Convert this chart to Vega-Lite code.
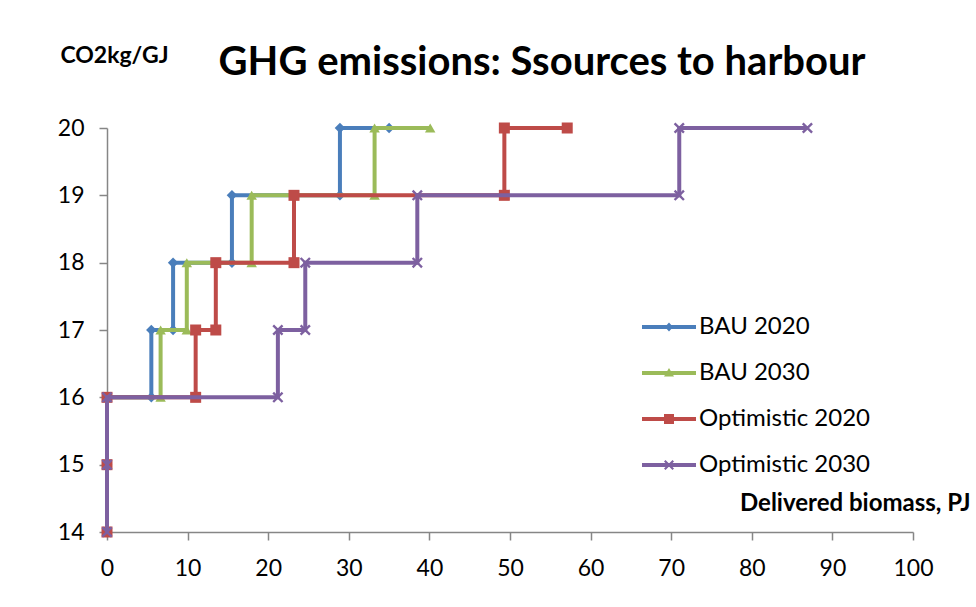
{
  "$schema": "https://vega.github.io/schema/vega-lite/v6.json",
  "autosize": "none",
  "width": 806,
  "height": 404,
  "padding": {"left": 107, "top": 128, "right": 63, "bottom": 75},
  "background": "white",
  "title": {"text": "GHG emissions: Ssources to harbour", "font": "Lato", "fontSize": 40, "fontWeight": "bold", "color": "black", "anchor": "middle", "dx": 32, "baseline": "alphabetic", "offset": -71},
  "config": {
    "view": {"stroke": null},
    "font": "Lato",
    "axis": {"grid": false, "domainColor": "#868686", "domainWidth": 1.5, "tickColor": "#868686", "tickWidth": 1.5, "tickSize": 8, "labelFont": "Lato", "labelFontSize": 23, "labelColor": "black", "labelFlush": false, "labelOverlap": false, "titleFont": "Lato", "titleFontWeight": "bold", "titleColor": "black"}
  },
  "data": {"values": [
    {"s": "BAU 2020", "i": 1, "x": 0, "y": 14}, {"s": "BAU 2020", "i": 2, "x": 0, "y": 15}, {"s": "BAU 2020", "i": 3, "x": 0, "y": 16},
    {"s": "BAU 2020", "i": 4, "x": 5.5, "y": 16}, {"s": "BAU 2020", "i": 5, "x": 5.5, "y": 17}, {"s": "BAU 2020", "i": 6, "x": 8.2, "y": 17},
    {"s": "BAU 2020", "i": 7, "x": 8.2, "y": 18}, {"s": "BAU 2020", "i": 8, "x": 15.5, "y": 18}, {"s": "BAU 2020", "i": 9, "x": 15.5, "y": 19},
    {"s": "BAU 2020", "i": 10, "x": 28.9, "y": 19}, {"s": "BAU 2020", "i": 11, "x": 28.9, "y": 20}, {"s": "BAU 2020", "i": 12, "x": 35, "y": 20},
    {"s": "BAU 2030", "i": 1, "x": 0, "y": 14}, {"s": "BAU 2030", "i": 2, "x": 0, "y": 15}, {"s": "BAU 2030", "i": 3, "x": 0, "y": 16},
    {"s": "BAU 2030", "i": 4, "x": 6.65, "y": 16}, {"s": "BAU 2030", "i": 5, "x": 6.65, "y": 17}, {"s": "BAU 2030", "i": 6, "x": 9.9, "y": 17},
    {"s": "BAU 2030", "i": 7, "x": 9.9, "y": 18}, {"s": "BAU 2030", "i": 8, "x": 17.95, "y": 18}, {"s": "BAU 2030", "i": 9, "x": 17.95, "y": 19},
    {"s": "BAU 2030", "i": 10, "x": 33.2, "y": 19}, {"s": "BAU 2030", "i": 11, "x": 33.2, "y": 20}, {"s": "BAU 2030", "i": 12, "x": 40.1, "y": 20},
    {"s": "Optimistic 2020", "i": 1, "x": 0, "y": 14}, {"s": "Optimistic 2020", "i": 2, "x": 0, "y": 15}, {"s": "Optimistic 2020", "i": 3, "x": 0, "y": 16},
    {"s": "Optimistic 2020", "i": 4, "x": 11, "y": 16}, {"s": "Optimistic 2020", "i": 5, "x": 11, "y": 17}, {"s": "Optimistic 2020", "i": 6, "x": 13.5, "y": 17},
    {"s": "Optimistic 2020", "i": 7, "x": 13.5, "y": 18}, {"s": "Optimistic 2020", "i": 8, "x": 23.2, "y": 18}, {"s": "Optimistic 2020", "i": 9, "x": 23.2, "y": 19},
    {"s": "Optimistic 2020", "i": 10, "x": 49.3, "y": 19}, {"s": "Optimistic 2020", "i": 11, "x": 49.3, "y": 20}, {"s": "Optimistic 2020", "i": 12, "x": 57.1, "y": 20},
    {"s": "Optimistic 2030", "i": 1, "x": 0, "y": 14}, {"s": "Optimistic 2030", "i": 2, "x": 0, "y": 15}, {"s": "Optimistic 2030", "i": 3, "x": 0, "y": 16},
    {"s": "Optimistic 2030", "i": 4, "x": 21.2, "y": 16}, {"s": "Optimistic 2030", "i": 5, "x": 21.2, "y": 17}, {"s": "Optimistic 2030", "i": 6, "x": 24.6, "y": 17},
    {"s": "Optimistic 2030", "i": 7, "x": 24.6, "y": 18}, {"s": "Optimistic 2030", "i": 8, "x": 38.5, "y": 18}, {"s": "Optimistic 2030", "i": 9, "x": 38.5, "y": 19},
    {"s": "Optimistic 2030", "i": 10, "x": 71, "y": 19}, {"s": "Optimistic 2030", "i": 11, "x": 71, "y": 20}, {"s": "Optimistic 2030", "i": 12, "x": 86.9, "y": 20}
  ]},
  "encoding": {
    "x": {"field": "x", "type": "quantitative", "scale": {"domain": [0, 100], "nice": false, "zero": false},
      "axis": {"values": [0, 10, 20, 30, 40, 50, 60, 70, 80, 90, 100], "labelPadding": 17, "title": "Delivered biomass, PJ", "titleFontSize": 24, "titleX": 863, "titleY": -29, "titleAlign": "right", "titleAnchor": null, "titleBaseline": "middle"}},
    "y": {"field": "y", "type": "quantitative", "scale": {"domain": [14, 20], "nice": false, "zero": false},
      "axis": {"values": [14, 15, 16, 17, 18, 19, 20], "labelPadding": 15, "title": "CO2kg/GJ", "titleFontSize": 23, "titleAngle": 0, "titleX": 7, "titleY": -73, "titleAlign": "center", "titleBaseline": "middle"}},
    "order": {"field": "i", "type": "quantitative"}
  },
  "layer": [
    {"transform": [{"filter": "datum.s === 'BAU 2020'"}], "mark": {"type": "line", "color": "#4A7EBB", "strokeWidth": 4}},
    {"transform": [{"filter": "datum.s === 'BAU 2020'"}], "mark": {"type": "point", "shape": "diamond", "filled": true, "opacity": 1, "color": "#4A7EBB", "size": 110}},
    {"transform": [{"filter": "datum.s === 'BAU 2030'"}], "mark": {"type": "line", "color": "#9BBB59", "strokeWidth": 4}},
    {"transform": [{"filter": "datum.s === 'BAU 2030'"}], "mark": {"type": "point", "shape": "triangle-up", "filled": true, "opacity": 1, "color": "#9BBB59", "size": 110}},
    {"transform": [{"filter": "datum.s === 'Optimistic 2020'"}], "mark": {"type": "line", "color": "#BE4B48", "strokeWidth": 4}},
    {"transform": [{"filter": "datum.s === 'Optimistic 2020'"}], "mark": {"type": "point", "shape": "square", "filled": true, "opacity": 1, "color": "#BE4B48", "size": 121}},
    {"transform": [{"filter": "datum.s === 'Optimistic 2030'"}], "mark": {"type": "line", "color": "#7D60A0", "strokeWidth": 4}},
    {"transform": [{"filter": "datum.s === 'Optimistic 2030'"}], "mark": {"type": "point", "shape": "M-0.7,-1L0,-0.3L0.7,-1L1,-0.7L0.3,0L1,0.7L0.7,1L0,0.3L-0.7,1L-1,0.7L-0.3,0L-1,-0.7Z", "filled": true, "opacity": 1, "color": "#7D60A0", "size": 121}},
    {"transform": [{"filter": "datum.x < -1"}], "mark": {"type": "point", "filled": true, "opacity": 1},
      "encoding": {
        "color": {"field": "s", "type": "nominal", "scale": {"domain": ["BAU 2020", "BAU 2030", "Optimistic 2020", "Optimistic 2030"], "range": ["#4A7EBB", "#9BBB59", "#BE4B48", "#7D60A0"]},
          "legend": {"orient": "none", "legendX": 550, "legendY": 187, "title": null, "padding": 0, "symbolSize": 400, "symbolStrokeWidth": 0, "labelOffset": 18, "rowPadding": 22, "labelFont": "Lato", "labelFontSize": 24, "labelColor": "black", "labelLimit": 400}},
        "shape": {"field": "s", "type": "nominal", "scale": {"domain": ["BAU 2020", "BAU 2030", "Optimistic 2020", "Optimistic 2030"], "range": [
          "M-2.7,-0.2H2.7V0.2H-2.7Z M0,-0.45L0.4,0L0,0.45L-0.4,0Z",
          "M-2.7,-0.2H2.7V0.2H-2.7Z M0,-0.5L0.5,0.35H-0.5Z",
          "M-2.7,-0.2H2.7V0.2H-2.7Z M-0.5,-0.5H0.5V0.5H-0.5Z",
          "M-2.7,-0.2H2.7V0.2H-2.7Z M-0.35,-0.5L0,-0.15L0.35,-0.5L0.5,-0.35L0.15,0L0.5,0.35L0.35,0.5L0,0.15L-0.35,0.5L-0.5,0.35L-0.15,0L-0.5,-0.35Z"
        ]},
          "legend": {"orient": "none", "legendX": 550, "legendY": 187, "title": null, "padding": 0, "symbolSize": 400, "symbolStrokeWidth": 0, "labelOffset": 18, "rowPadding": 22, "labelFont": "Lato", "labelFontSize": 24, "labelColor": "black", "labelLimit": 400}}
      }}
  ]
}
